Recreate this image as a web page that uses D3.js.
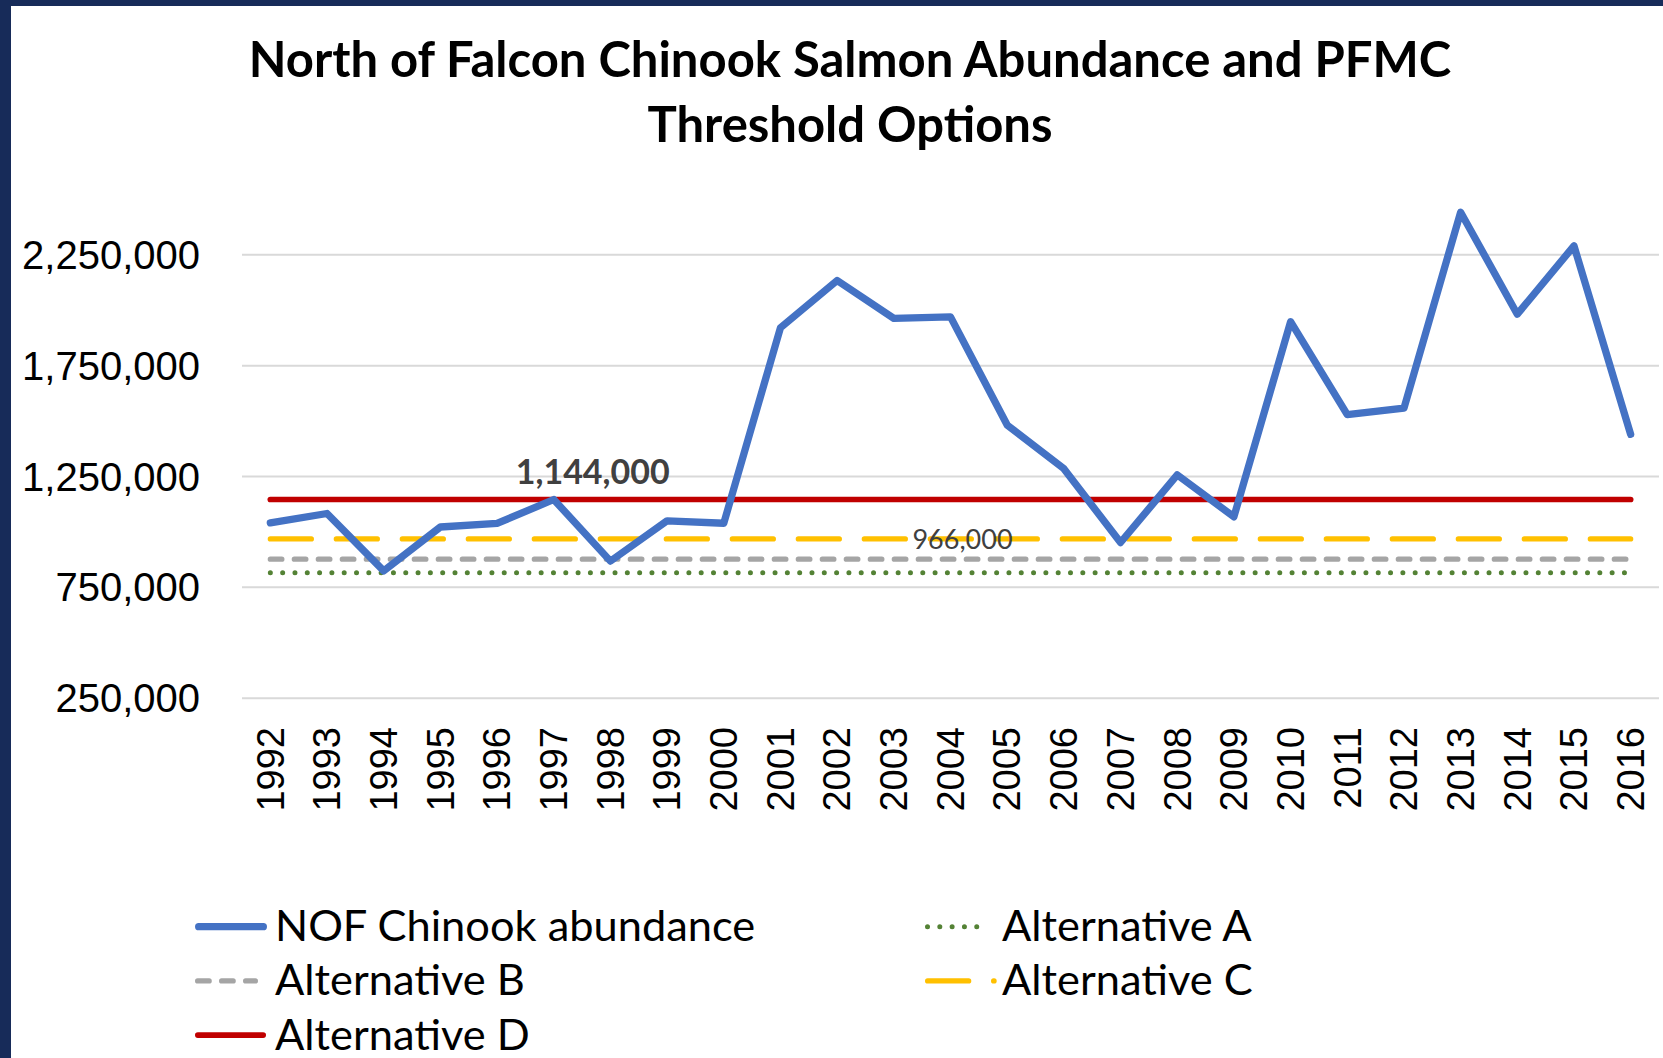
<!DOCTYPE html>
<html>
<head>
<meta charset="utf-8">
<script src="https://cdn.jsdelivr.net/npm/d3@7"></script>
<style>
    html, body { margin: 0; padding: 0; background: #fff; }
    svg { display: block; font-family: Lato, "Open Sans", "Liberation Sans", sans-serif; }
</style>
</head>
<body>
<svg id="main-svg" width="1663" height="1058"></svg>
<script>
(function() {

    // categories
    var years = [1992, 1993, 1994, 1995, 1996, 1997, 1998, 1999, 2000, 2001, 2002, 2003,
        2004, 2005, 2006, 2007, 2008, 2009, 2010, 2011, 2012, 2013, 2014, 2015, 2016];

    // NOF Chinook abundance
    var abundance = [1039000, 1081000, 822000, 1020000, 1036000, 1144000, 866000, 1048000,
        1037000, 1919000, 2132000, 1961000, 1968000, 1480000, 1283000, 950000, 1255000,
        1066000, 1946000, 1527000, 1556000, 2440000, 1980000, 2288000, 1438000];

    // threshold options
    var altA = 814000;
    var altB = 875000;
    var altC = 966000;
    var altD = 1144000;

    var yTicks = [250000, 750000, 1250000, 1750000, 2250000];

    var title = ["North of Falcon Chinook Salmon Abundance and PFMC", "Threshold Options"];

    var series = [
        {name: "NOF Chinook abundance", values: abundance, color: "#4472C4", width: 7.3, dash: null},
        {name: "Alternative A", values: years.map(function() { return altA; }), color: "#548235", width: 5, dash: "0.01,12.3"},
        {name: "Alternative B", values: years.map(function() { return altB; }), color: "#A5A5A5", width: 5.3, dash: "11.5,12.5"},
        {name: "Alternative C", values: years.map(function() { return altC; }), color: "#FFC000", width: 5.3, dash: "41,25"},
        {name: "Alternative D", values: years.map(function() { return altD; }), color: "#C00000", width: 5.7, dash: null}
    ];

    var svg = d3.select("#main-svg");

    // frame
    svg.append("rect").attr("x", 0).attr("y", 0).attr("width", 1663).attr("height", 6).attr("fill", "#172b59");
    svg.append("rect").attr("x", 0).attr("y", 0).attr("width", 11).attr("height", 1058).attr("fill", "#172b59");

    svg.append("g")
    .selectAll("text")
    .data(title)
    .enter()
    .append("text")
    .attr("x", 850)
    .attr("y", function(d, i) { return 77 + i * 65; })
    .attr("text-anchor", "middle")
    .attr("font-size", 49)
    .attr("font-weight", "bold")
    .attr("fill", "#000")
    .text(function(d) { return d; });

    var left = 242, right = 1659;

    var x = d3.scaleBand().domain(years).range([left, right]);
    var y = d3.scaleLinear().domain([250000, 2500000]).range([697.7, 198.9]);
    var cx = function(yr) { return x(yr) + x.bandwidth() / 2; };

    // grid + y labels
    var yAxis = svg.append("g")
    .attr("transform", "translate(" + left + ",0)")
    .call(d3.axisLeft(y).tickValues(yTicks).tickSize(-(right - left)).tickPadding(42).tickFormat(d3.format(",")));
    yAxis.select(".domain").remove();
    yAxis.selectAll(".tick line").attr("stroke", "#D9D9D9").attr("stroke-width", 2);
    yAxis.selectAll(".tick text")
    .attr("font-family", null)
    .attr("font-size", 40)
    .attr("fill", "#000")
    .attr("dy", "0.35em");

    // x labels
    var xAxis = svg.append("g")
    .attr("transform", "translate(0," + 727 + ")")
    .call(d3.axisBottom(x).tickSize(0).tickPadding(0));
    xAxis.select(".domain").remove();
    xAxis.selectAll(".tick text")
    .attr("font-family", null)
    .attr("font-size", 38)
    .attr("fill", "#000")
    .attr("transform", "rotate(-90)")
    .attr("text-anchor", "end")
    .attr("x", 0)
    .attr("y", 0)
    .attr("dy", "0.35em");

    var line = d3.line()
    .x(function(d, i) { return cx(years[i]); })
    .y(function(d) { return y(d); });

    // draw order: thresholds under the abundance line
    var drawOrder = [series[1], series[2], series[3], series[4], series[0]];

    svg.append("g")
    .selectAll("path")
    .data(drawOrder)
    .enter()
    .append("path")
    .attr("d", function(s) { return line(s.values); })
    .attr("fill", "none")
    .attr("stroke", function(s) { return s.color; })
    .attr("stroke-width", function(s) { return s.width; })
    .attr("stroke-dasharray", function(s) { return s.dash; })
    .attr("stroke-linecap", "round")
    .attr("stroke-linejoin", "round");

    // labels
    svg.append("text")
    .attr("x", cx(1997) + 39)
    .attr("y", y(altD) - 16)
    .attr("text-anchor", "middle")
    .attr("font-size", 34)
    .attr("font-weight", "bold")
    .attr("fill", "#404040")
    .text(d3.format(",")(altD));

    svg.append("text")
    .attr("x", cx(2004) + 12)
    .attr("y", y(altC) + 10.5)
    .attr("text-anchor", "middle")
    .attr("font-size", 27)
    .attr("fill", "#404040")
    .text(d3.format(",")(altC));

    // legend
    var colX = [195, 925];
    var rowY = [926.7, 980.9, 1035.1];
    var swatchLen = [72, 64, 63, 71.7, 71];

    var legend = svg.append("g")
    .selectAll("g")
    .data(series)
    .enter()
    .append("g")
    .attr("transform", function(s, i) {
        return "translate(" + colX[i % 2] + "," + rowY[Math.floor(i / 2)] + ")";
    });

    legend.append("line")
    .attr("x1", function(s) { return s.width / 2; })
    .attr("x2", function(s, i) { return swatchLen[i] - s.width / 2; })
    .attr("y1", 0)
    .attr("y2", 0)
    .attr("stroke", function(s) { return s.color; })
    .attr("stroke-width", function(s) { return s.width; })
    .attr("stroke-dasharray", function(s) { return s.dash; })
    .attr("stroke-linecap", "round");

    legend.append("text")
    .attr("x", function(s, i) { return i % 2 ? 77 : 80; })
    .attr("y", 14.5)
    .attr("font-size", 43.4)
    .attr("fill", "#000")
    .text(function(s) { return s.name; });

})();
</script>
</body>
</html>
